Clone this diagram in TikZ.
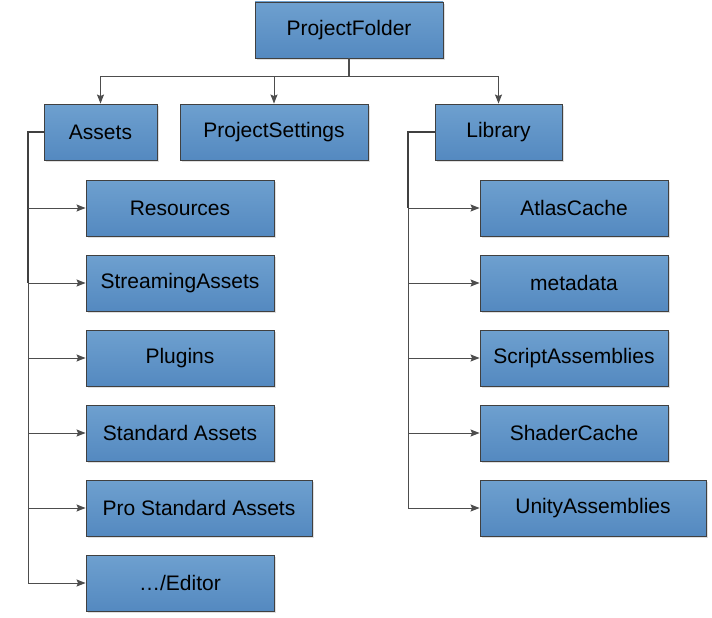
\documentclass[tikz,border=0pt]{standalone}
\usepackage{fontspec}
\setmainfont{Liberation Sans}
\usetikzlibrary{arrows.meta,shadows}
\definecolor{boxtop}{RGB}{110,160,207}
\definecolor{boxbot}{RGB}{84,137,192}
\definecolor{edgec}{RGB}{64,64,64}
\definecolor{linec}{RGB}{77,77,77}
\tikzset{
  folder/.style={draw=edgec, line width=0.9pt, top color=boxtop, bottom color=boxbot,
    minimum height=56pt, inner sep=0pt, font=\fontsize{21}{24}\selectfont,
    drop shadow={shadow xshift=2pt, shadow yshift=-2pt, opacity=0.25, fill=gray}},
  conn/.style={draw=linec, line width=1pt},
  trunk/.style={draw=edgec, line width=1.6pt},
  arr/.style={conn, -{Stealth[length=9pt, width=7pt, inset=1.5pt]}}
}
\begin{document}
\begin{tikzpicture}[x=1pt,y=-1pt]
\useasboundingbox (0,0) rectangle (712,618);
\node[folder, minimum width=188pt] (pf) at (349,30) {ProjectFolder};
\node[folder, minimum width=113pt] (assets) at (100.5,132) {Assets};
\node[folder, minimum width=188pt] (ps) at (274,132) {ProjectSettings};
\node[folder, minimum width=127pt] (lib) at (498.5,132) {Library};
% left children
\node[folder, minimum width=188pt] (res) at (180,208) {Resources};
\node[folder, minimum width=188pt] (stream) at (180,283) {StreamingAssets};
\node[folder, minimum width=188pt] (plug) at (180,358) {Plugins};
\node[folder, minimum width=188pt] (std) at (180,433) {Standard Assets};
\node[folder, minimum width=226pt] (pro) at (199,508) {Pro Standard Assets};
\node[folder, minimum width=188pt] (edit) at (180,583) {…/Editor};
% right children
\node[folder, minimum width=188pt] (atlas) at (574,208) {AtlasCache};
\node[folder, minimum width=188pt] (meta) at (574,283) {metadata};
\node[folder, minimum width=188pt] (script) at (574,358) {ScriptAssemblies};
\node[folder, minimum width=188pt] (shader) at (574,433) {ShaderCache};
\node[folder, minimum width=226pt] (unity) at (593,508) {UnityAssemblies};
% top connectors
\coordinate (bus) at (349,77);
\draw[conn, line width=1.3pt] (pf.south) -- (bus);
\draw[arr] (bus) -| (assets.north);
\draw[arr] (bus) -| (ps.north);
\draw[arr] (bus) -| (lib.north);
% left tree
\coordinate (aL) at (28,132);
\coordinate (aE) at (28,583);
\draw[conn] (aL) -- (aE);
\draw[trunk] (assets.west) -- (aL) -- (aL |- stream.west);
\foreach \c in {res,stream,plug,std,pro,edit}
  \draw[arr] (aL |- \c.west) -- (\c.west);
% right tree
\coordinate (lL) at (408,132);
\coordinate (lE) at (408,508);
\draw[conn] (lL) -- (lE);
\draw[trunk] (lib.west) -- (lL) -- (lL |- atlas.west);
\foreach \c in {atlas,meta,script,shader,unity}
  \draw[arr] (lL |- \c.west) -- (\c.west);
\end{tikzpicture}
\end{document}
